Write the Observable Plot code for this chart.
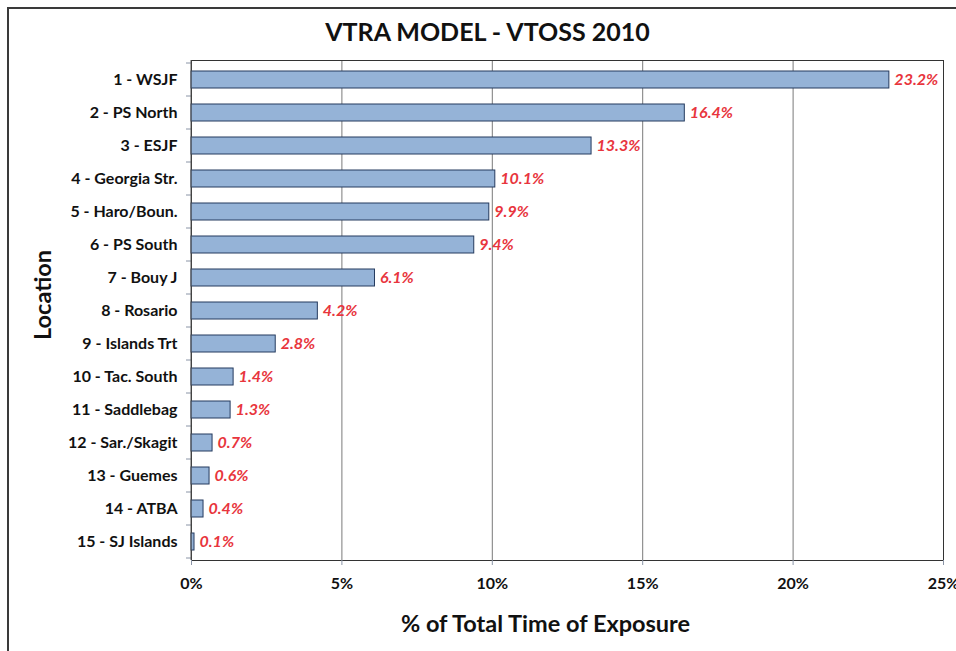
<!DOCTYPE html>
<html><head><meta charset="utf-8">
<script src="https://cdn.jsdelivr.net/npm/d3@7"></script>
<script src="https://cdn.jsdelivr.net/npm/@observablehq/plot@0.6"></script>
<style>
html,body{margin:0;padding:0;background:#fff;overflow:hidden;width:956px;height:651px;}
#wrap{position:relative;width:956px;height:651px;font-family:Lato,"Open Sans",sans-serif;}
#frame{position:absolute;left:7px;top:7px;width:1000px;height:700px;border:2px solid #3a3a3a;box-sizing:border-box;}
#title{position:absolute;left:0;top:16px;width:975px;text-align:center;font-weight:bold;font-size:25px;color:#111;}
#chart{position:absolute;left:0;top:0;}
</style></head>
<body><div id="wrap"><div id="frame"></div><div id="title">VTRA MODEL - VTOSS 2010</div><div id="chart"></div></div>
<script>
const locations = ["1 - WSJF","2 - PS North","3 - ESJF","4 - Georgia Str.","5 - Haro/Boun.","6 - PS South","7 - Bouy J","8 - Rosario","9 - Islands Trt","10 - Tac. South","11 - Saddlebag","12 - Sar./Skagit","13 - Guemes","14 - ATBA","15 - SJ Islands"];
const values = [23.2,16.4,13.3,10.1,9.9,9.4,6.1,4.2,2.8,1.4,1.3,0.7,0.6,0.4,0.1];
const xTicks = [0,5,10,15,20,25];
const data = locations.map((loc,i)=>({loc, v: values[i]}));

const chart = Plot.plot({
  width: 956, height: 651,
  marginLeft: 191, marginRight: 13, marginTop: 60, marginBottom: 91,
  style: {fontFamily: "Lato, 'Open Sans', sans-serif", background: "transparent", overflow: "visible"},
  x: {domain: [0,25], ticks: xTicks, tickFormat: d => d + "%", label: null},
  y: {domain: locations, paddingInner: 0.5, paddingOuter: 0.25, align: 0.5, label: null},
  marks: [
    Plot.gridX(xTicks.slice(1), {stroke: "#7a7a7a", strokeOpacity: 1, strokeWidth: 1}),
    Plot.frame({stroke: "#333", strokeWidth: 1}),
    Plot.barX(data, {x: "v", y: "loc", fill: "#95b3d7", stroke: "#243a5e", strokeWidth: 1}),
    Plot.text(data, {x: "v", y: "loc", text: d => d.v.toFixed(1) + "%", textAnchor: "start", dx: 5, fill: "#e8353d", fontWeight: "bold", fontStyle: "italic", fontSize: 16}),
    Plot.axisX({ticks: xTicks, tickFormat: d => d + "%", tickSize: 5, tickPadding: 12, fontSize: 16, fontWeight: "bold", stroke: "#8a94a6", fill: "#111", label: null}),
    Plot.axisY({tickSize: 0, tickPadding: 14, fontSize: 16, fontWeight: "bold", fill: "#111", label: null}),
    Plot.text(["% of Total Time of Exposure"], {frameAnchor: "bottom", dx: -22, dy: 71, fontSize: 23.5, fontWeight: "bold", fill: "#111"})
  ]
});
document.getElementById("chart").appendChild(chart);

const ys = chart.scale("y");
const svg = d3.select(chart);
const g = svg.append("g");
const bw = ys.bandwidth;
const step = ys.step;
const bounds = locations.map(loc => ys.apply(loc) + bw/2 - step/2);
bounds.push(ys.apply(locations[locations.length-1]) + bw/2 + step/2);
bounds.forEach(yb => {
  g.append("line").attr("x1",186).attr("x2",191).attr("y1",yb).attr("y2",yb).attr("stroke","#8a94a6");
});
g.append("line").attr("x1",191).attr("x2",191).attr("y1",60).attr("y2",560).attr("stroke","#555");
svg.append("text")
  .attr("transform","translate(42,295) rotate(-90)")
  .attr("text-anchor","middle").attr("dominant-baseline","central")
  .attr("font-family","Lato, 'Open Sans', sans-serif")
  .attr("font-size",23.5).attr("font-weight","bold").attr("fill","#111")
  .text("Location");
</script></body></html>
